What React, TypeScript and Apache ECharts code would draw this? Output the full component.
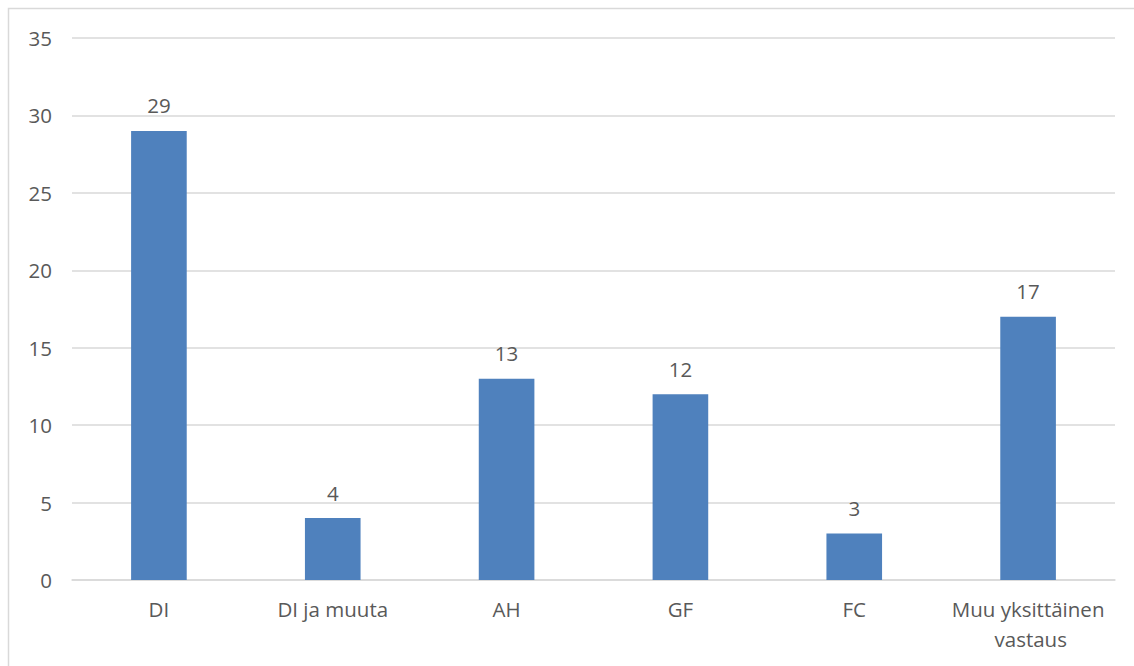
import React, { useEffect, useRef } from "react";
import * as echarts from "echarts";

const categories = ["DI", "DI ja muuta", "AH", "GF", "FC", "Muu yksittäinen vastaus"];
const counts = [29, 4, 13, 12, 3, 17];
const yTicks = { min: 0, max: 35, interval: 5 };

const TEXT = "#595959";
const FONT = "'Open Sans', 'Noto Sans', sans-serif";
const SIZE = 20.5;

export default function App() {
  const ref = useRef<HTMLDivElement>(null);

  useEffect(() => {
    if (!ref.current) return;
    const chart = echarts.init(ref.current, undefined, { renderer: "svg" });
    chart.setOption({
      animation: false,
      backgroundColor: "#ffffff",
      textStyle: { fontFamily: FONT },
      graphic: [
        {
          type: "rect",
          shape: { x: 8.5, y: 8.5, width: 1200, height: 700 },
          style: { fill: "none", stroke: "#d9d9d9", lineWidth: 1.5 },
          silent: true,
        },
      ],
      grid: { left: 72, right: 19, top: 38, bottom: 86, containLabel: false },
      xAxis: {
        type: "category",
        data: categories,
        axisLine: { show: true, lineStyle: { color: "#d9d9d9", width: 1.5 } },
        axisTick: { show: false },
        axisLabel: {
          color: TEXT,
          fontSize: SIZE,
          fontFamily: FONT,
          margin: 14,
          lineHeight: 30,
          width: 165,
          overflow: "break",
          interval: 0,
        },
      },
      yAxis: {
        type: "value",
        min: yTicks.min,
        max: yTicks.max,
        interval: yTicks.interval,
        axisLine: { show: false },
        axisTick: { show: false },
        axisLabel: { color: TEXT, fontSize: SIZE, fontFamily: FONT, margin: 20 },
        splitLine: { lineStyle: { color: "#d9d9d9", width: 1.5 } },
      },
      series: [
        {
          type: "bar",
          data: counts,
          barCategoryGap: "68%",
          itemStyle: { color: "#4f81bd" },
          label: {
            show: true,
            position: "top",
            distance: 15,
            color: TEXT,
            fontSize: SIZE,
            fontFamily: FONT,
          },
        },
      ],
    });
    return () => chart.dispose();
  }, []);

  return (
    <div
      ref={ref}
      style={{ position: "fixed", left: 0, top: 0, width: 1134, height: 666 }}
    />
  );
}
